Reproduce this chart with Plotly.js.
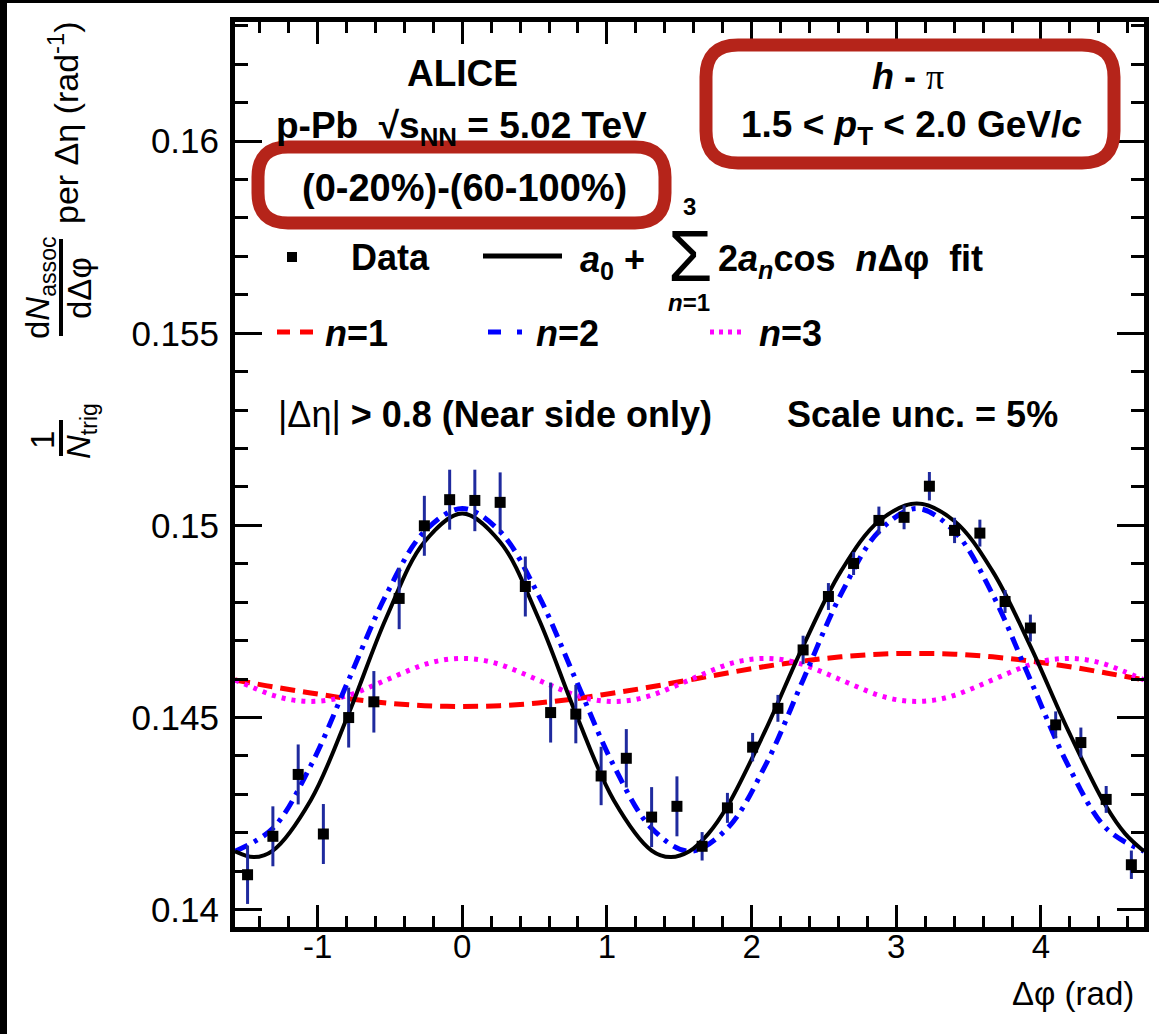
<!DOCTYPE html>
<html>
<head>
<meta charset="utf-8">
<script src="https://cdn.plot.ly/plotly-3.0.1.min.js"></script>
<style>html,body{margin:0;padding:0;background:#fff;}</style>
</head>
<body>
<div id="chart" style="width:1159px;height:1034px;"></div>
<script>
// ---------------- data ----------------
const dphi = [-1.484, -1.309, -1.134, -0.960, -0.785, -0.611, -0.436, -0.262, -0.087,
               0.087,  0.262,  0.436,  0.611,  0.785,  0.960,  1.134,  1.309,  1.484,
               1.658,  1.833,  2.007,  2.182,  2.356,  2.531,  2.705,  2.880,  3.054,
               3.229,  3.403,  3.578,  3.752,  3.927,  4.102,  4.276,  4.451,  4.625];
const yield_ = [0.14091, 0.14191, 0.14352, 0.14197, 0.14500, 0.14541, 0.14810, 0.14999, 0.15067,
                0.15065, 0.15060, 0.14841, 0.14513, 0.14509, 0.14348, 0.14394, 0.14241, 0.14269,
                0.14165, 0.14265, 0.14423, 0.14524, 0.14676, 0.14815, 0.14901, 0.15013, 0.15021,
                0.15102, 0.14987, 0.14980, 0.14802, 0.14733, 0.14481, 0.14435, 0.14287, 0.14117];
const yerr = [0.00076, 0.00078, 0.00078, 0.00078, 0.00078, 0.00080, 0.00080, 0.00078, 0.00078,
              0.00080, 0.00078, 0.00078, 0.00078, 0.00076, 0.00076, 0.00076, 0.00078, 0.00078,
              0.00037, 0.00039, 0.00037, 0.00035, 0.00037, 0.00035, 0.00030, 0.00036, 0.00031,
              0.00037, 0.00033, 0.00035, 0.00030, 0.00035, 0.00035, 0.00039, 0.00035, 0.00037];

// curves sampled every 15 degrees
const curveX = [-1.5708, -1.3090, -1.0472, -0.7854, -0.5236, -0.2618, 0, 0.2618, 0.5236, 0.7854,
                1.0472, 1.3090, 1.5708, 1.8326, 2.0944, 2.3562, 2.6180, 2.8798, 3.1416, 3.4034,
                3.6652, 3.9270, 4.1888, 4.4506, 4.7124];
const n1Y = [0.14598, 0.14580, 0.14564, 0.14549, 0.14538, 0.14531, 0.14529, 0.14531, 0.14538, 0.14549,
             0.14564, 0.14580, 0.14598, 0.14616, 0.14633, 0.14647, 0.14658, 0.14665, 0.14667, 0.14665,
             0.14658, 0.14647, 0.14633, 0.14616, 0.14598];
const n2Y = [0.14152, 0.14212, 0.14375, 0.14598, 0.14821, 0.14984, 0.15044, 0.14984, 0.14821, 0.14598,
             0.14375, 0.14212, 0.14152, 0.14212, 0.14375, 0.14598, 0.14821, 0.14984, 0.15044, 0.14984,
             0.14821, 0.14598, 0.14375, 0.14212, 0.14152];
// n=3 curve sampled every 7.5 degrees
const n3X = [-1.5708, -1.4399, -1.3090, -1.1781, -1.0472, -0.9163, -0.7854, -0.6545, -0.5236, -0.3927,
             -0.2618, -0.1309, 0, 0.1309, 0.2618, 0.3927, 0.5236, 0.6545, 0.7854, 0.9163,
             1.0472, 1.1781, 1.3090, 1.4399, 1.5708, 1.7017, 1.8326, 1.9635, 2.0944, 2.2253,
             2.3562, 2.4871, 2.6180, 2.7489, 2.8798, 3.0107, 3.1416, 3.2725, 3.4034, 3.5343,
             3.6652, 3.7961, 3.9270, 4.0579, 4.1888, 4.3197, 4.4506, 4.5815, 4.7124];
const n3Y = [0.14598, 0.14577, 0.14558, 0.14546, 0.14542, 0.14546, 0.14558, 0.14577, 0.14598, 0.14619,
             0.14638, 0.14650, 0.14654, 0.14650, 0.14638, 0.14619, 0.14598, 0.14577, 0.14558, 0.14546,
             0.14542, 0.14546, 0.14558, 0.14577, 0.14598, 0.14619, 0.14638, 0.14650, 0.14654, 0.14650,
             0.14638, 0.14619, 0.14598, 0.14577, 0.14558, 0.14546, 0.14542, 0.14546, 0.14558, 0.14577,
             0.14598, 0.14619, 0.14638, 0.14650, 0.14654, 0.14650, 0.14638, 0.14619, 0.14598];
// full fit
const fitX = [-1.5708, -1.4399, -1.3090, -1.0472, -0.7854, -0.5236, -0.2618, 0, 0.2618, 0.5236,
              0.7854, 1.0472, 1.3090, 1.4399, 1.5708, 1.7017, 1.8326, 2.0944, 2.3562, 2.6180,
              2.8798, 3.1416, 3.4034, 3.6652, 3.9270, 4.1888, 4.4506, 4.5815, 4.7124];
const fitY = [0.14152, 0.14137, 0.14154, 0.14285, 0.14510, 0.14761, 0.14957, 0.15031, 0.14957, 0.14761,
              0.14510, 0.14285, 0.14154, 0.14137, 0.14152, 0.14198, 0.14269, 0.14466, 0.14686, 0.14881,
              0.15011, 0.15057, 0.15011, 0.14881, 0.14686, 0.14466, 0.14269, 0.14198, 0.14152];

const xTickVals = [-1, 0, 1, 2, 3, 4];
const xTickText = ["-1", "0", "1", "2", "3", "4"];
const yTickVals = [0.14, 0.145, 0.15, 0.155, 0.16];
const yTickText = ["0.14", "0.145", "0.15", "0.155", "0.16"];

// ---------------- layout helpers ----------------
const W = 1159, H = 1034;
const L = 235, R = 1144, T = 22, B = 927;
const px = x => (x - L) / (R - L);
const py = y => (B - y) / (B - T);
const FONT = "Liberation Sans, Arial, Helvetica, sans-serif";

function ann(text, x, y, size, opts) {
  return Object.assign({
    text: text, xref: "paper", yref: "paper", x: px(x), y: py(y),
    xanchor: "center", yanchor: "middle", showarrow: false,
    font: {family: FONT, size: size, color: "#000"}
  }, opts || {});
}
function rrect(x0, y0, x1, y1, r) {
  const P = (x, y) => px(x).toFixed(5) + "," + py(y).toFixed(5);
  return "M " + P(x0 + r, y0) + " L " + P(x1 - r, y0) + " Q " + P(x1, y0) + " " + P(x1, y0 + r) +
         " L " + P(x1, y1 - r) + " Q " + P(x1, y1) + " " + P(x1 - r, y1) +
         " L " + P(x0 + r, y1) + " Q " + P(x0, y1) + " " + P(x0, y1 - r) +
         " L " + P(x0, y0 + r) + " Q " + P(x0, y0) + " " + P(x0 + r, y0) + " Z";
}
function seg(x0, y0, x1, y1, color, width, dash) {
  return {type: "line", xref: "paper", yref: "paper", x0: px(x0), y0: py(y0), x1: px(x1), y1: py(y1),
          line: {color: color, width: width, dash: dash || "solid"}};
}

// ---------------- traces ----------------
const traces = [
  {x: curveX, y: n1Y, mode: "lines", line: {color: "#ff0000", width: 5, dash: "15px,8px", shape: "spline"}, hoverinfo: "skip"},
  {x: n3X, y: n3Y, mode: "lines", line: {color: "#ff00ff", width: 5, dash: "4px,6px", shape: "spline"}, hoverinfo: "skip"},
  {x: curveX, y: n2Y, mode: "lines", line: {color: "#0000ff", width: 5, dash: "14px,7px,4px,7px", shape: "spline"}, hoverinfo: "skip"},
  {x: fitX, y: fitY, mode: "lines", line: {color: "#000000", width: 4, shape: "spline"}, hoverinfo: "skip"},
  {x: dphi, y: yield_, mode: "markers",
   marker: {symbol: "square", size: 11, color: "#000"},
   error_y: {type: "data", array: yerr, visible: true, color: "#1f2a9e", thickness: 3, width: 0}}
];

// ---------------- annotations ----------------
const annotations = [
  ann("<b>ALICE</b>", 462, 73, 37),
  ann("<b>p-Pb  √s<sub>NN</sub> = 5.02 TeV</b>", 461, 128, 37),
  ann("<b>(0-20%)-(60-100%)</b>", 464, 188, 38),
  ann("<b><i>h</i> -</b> <span style='font-family:Liberation Serif'>π</span>", 908, 76, 36),
  ann("<b>1.5 &lt; <i>p</i><sub>T</sub> &lt; 2.0 GeV/<i>c</i></b>", 911, 127, 37),
  ann("<b>Data</b>", 390, 257, 36),
  ann("<b><i>a</i><sub>0</sub> +</b>", 612, 262, 36),
  ann("Σ", 690, 256, 72),
  ann("<b>3</b>", 689, 206, 24),
  ann("<b><i>n</i>=1</b>", 689, 302, 24),
  ann("<b>2<i>a</i><sub><i>n</i></sub>cos  <i>n</i>Δφ  fit</b>", 850, 261, 36),
  ann("<b><i>n</i>=1</b>", 356, 333, 36),
  ann("<b><i>n</i>=2</b>", 567, 333, 36),
  ann("<b><i>n</i>=3</b>", 790, 333, 36),
  ann("|Δη| <b>&gt; 0.8 (Near side only)</b>", 495, 415, 36),
  ann("<b>Scale unc. = 5%</b>", 922, 415, 36),
  ann("Δφ (rad)", 1136, 993, 33, {xanchor: "right"}),
  // y-axis title pieces (rotated)
  ann("per Δη (rad<sup>-1</sup>)", 64, 123, 34, {textangle: -90}),
  ann("d<i>N</i><sub>assoc</sub>", 40, 288, 33, {textangle: -90}),
  ann("dΔφ", 79, 288, 33, {textangle: -90}),
  ann("1", 42, 440, 33, {textangle: -90}),
  ann("<i>N</i><sub>trig</sub>", 81, 431, 33, {textangle: -90})
];

// ---------------- shapes ----------------
const shapes = [
  // black page border strips
  {type: "rect", xref: "paper", yref: "paper", x0: px(0), x1: px(W), y0: py(0), y1: py(3), fillcolor: "#000", line: {width: 0}},
  {type: "rect", xref: "paper", yref: "paper", x0: px(0), x1: px(7), y0: py(0), y1: py(H), fillcolor: "#000", line: {width: 0}},
  // y-title fraction bars
  seg(61, 239, 61, 336, "#000", 4),
  seg(61, 420, 61, 456, "#000", 4),
  // legend swatches
  {type: "rect", xref: "paper", yref: "paper", x0: px(287), x1: px(297), y0: py(252), y1: py(262), fillcolor: "#000", line: {width: 0}},
  seg(483, 256, 562, 256, "#000", 5),
  seg(277, 332, 315, 332, "#ff0000", 5, "13px,10px"),
  seg(488, 332, 525, 332, "#0000ff", 5, "13px,16px,5px,16px"),
  seg(710, 332, 746, 332, "#ff00ff", 5, "4px,5px"),
  // hand-drawn red boxes
  {type: "path", xref: "paper", yref: "paper", path: rrect(258, 147, 665, 223, 30), line: {color: "#b5241a", width: 13}},
  {type: "path", xref: "paper", yref: "paper", path: rrect(706, 45, 1114, 163, 32), line: {color: "#b5241a", width: 13}}
];

const axisCommon = {
  showline: true, linecolor: "#000", linewidth: 5, mirror: "ticks",
  ticks: "inside", tickcolor: "#000", tickwidth: 3,
  showgrid: false, zeroline: false, fixedrange: true,
  tickfont: {family: FONT, size: 35, color: "#000"}
};

const layout = {
  width: W, height: H, autosize: false,
  margin: {l: L, r: W - R, t: T, b: H - B, pad: 0},
  paper_bgcolor: "#fff", plot_bgcolor: "#fff",
  showlegend: false,
  xaxis: Object.assign({}, axisCommon, {
    range: [-1.5708, 4.7124], tickmode: "array", tickvals: xTickVals, ticktext: xTickText,
    ticklen: 22, ticklabelstandoff: -14,
    tickfont: {family: FONT, size: 33, color: "#000"},
    minor: {tickmode: "linear", tick0: 0, dtick: 0.2, ticks: "inside", ticklen: 11, tickwidth: 3, tickcolor: "#000", showgrid: false}
  }),
  yaxis: Object.assign({}, axisCommon, {
    range: [0.13955, 0.1631], tickmode: "array", tickvals: yTickVals, ticktext: yTickText,
    ticklen: 27, ticklabelstandoff: 4,
    minor: {tickmode: "linear", tick0: 0.14, dtick: 0.001, ticks: "inside", ticklen: 13, tickwidth: 3, tickcolor: "#000", showgrid: false}
  }),
  annotations: annotations,
  shapes: shapes
};

Plotly.newPlot("chart", traces, layout, {displayModeBar: false, staticPlot: true});
</script>
</body>
</html>
